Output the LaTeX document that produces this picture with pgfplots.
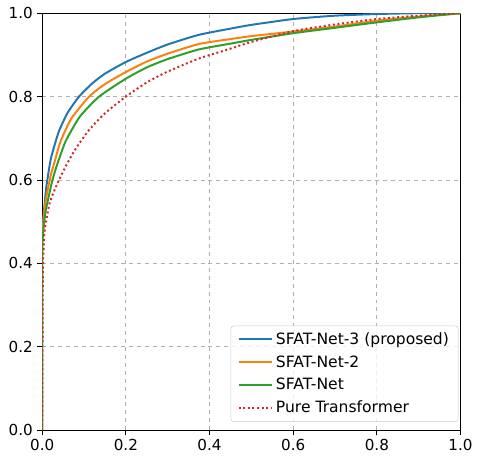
\documentclass[border=0pt]{standalone}
\usepackage{pgfplots}
\pgfplotsset{compat=1.18}
\usepackage{fontspec}
\setmainfont{DejaVu Sans}
\definecolor{tabblue}{HTML}{1F77B4}
\definecolor{taborange}{HTML}{FF7F0E}
\definecolor{tabgreen}{HTML}{2CA02C}
\definecolor{tabred}{HTML}{D62728}
\begin{document}
\begin{tikzpicture}
\begin{axis}[
    scale only axis,
    width=317pt, height=316pt,
    xmin=0, xmax=1, ymin=0, ymax=1,
    xtick={0,0.2,...,1.0}, ytick={0,0.2,...,1.0},
    xtick pos=left, ytick pos=left,
    tick align=outside, major tick length=3.6pt,
    tick style={black, line width=0.6pt},
    axis line style={line width=0.6pt},
    ticklabel style={font=\fontsize{11.5}{13}\selectfont},
    /pgf/number format/assume math mode=true,
    /pgf/number format/.cd, fixed, fixed zerofill, precision=1, /pgfplots/.cd,
    grid=major,
    major grid style={dashed, color=black!31, line width=0.6pt},
    legend cell align=left,
    legend style={at={(0.995,0.02)}, anchor=south east,
        font=\fontsize{11.8}{13}\selectfont,
        draw=black!20, rounded corners=2pt, fill=white, fill opacity=0.8, text opacity=1,
        row sep=3pt, inner xsep=5pt, inner ysep=3pt},
    legend image code/.code={\draw[#1] (0cm,0cm) -- (0.9cm,0cm);},
    every axis plot/.append style={smooth, tension=0.35},
]
\addplot[tabblue, line width=1.5pt] coordinates {
(0,0) (0,0.45) (0.002,0.50) (0.005,0.534) (0.01,0.585) (0.02,0.648) (0.03,0.685)
(0.04,0.717) (0.06,0.76) (0.088,0.80) (0.12,0.832) (0.15,0.855) (0.2,0.883)
(0.25,0.905) (0.3,0.925) (0.374,0.948) (0.45,0.963) (0.5,0.972) (0.6,0.986)
(0.7,0.994) (0.8,0.998) (0.9,1) (1,1)};
\addlegendentry{SFAT-Net-3 (proposed)}
\addplot[taborange, line width=1.5pt] coordinates {
(0,0) (0,0.44) (0.002,0.49) (0.005,0.527) (0.01,0.56) (0.02,0.61) (0.03,0.645)
(0.044,0.693) (0.07,0.748) (0.112,0.80) (0.15,0.83) (0.2,0.859) (0.25,0.884)
(0.3,0.903) (0.374,0.926) (0.45,0.938) (0.5,0.945) (0.6,0.956) (0.7,0.968)
(0.8,0.982) (0.9,0.992) (1,1)};
\addlegendentry{SFAT-Net-2}
\addplot[tabgreen, line width=1.5pt] coordinates {
(0,0) (0,0.42) (0.002,0.47) (0.005,0.503) (0.01,0.535) (0.024,0.598) (0.035,0.635)
(0.056,0.693) (0.09,0.752) (0.136,0.80) (0.2,0.843) (0.25,0.87) (0.3,0.89)
(0.374,0.913) (0.45,0.927) (0.5,0.936) (0.6,0.952) (0.7,0.965) (0.8,0.978)
(0.9,0.99) (1,1)};
\addlegendentry{SFAT-Net}
\addplot[tabred, line width=1.5pt, dotted] coordinates {
(0,0) (0.001,0.3) (0.002,0.40) (0.005,0.47) (0.01,0.505) (0.017,0.542) (0.025,0.565)
(0.04,0.60) (0.06,0.64) (0.08,0.675) (0.112,0.72) (0.15,0.76) (0.2,0.80)
(0.25,0.834) (0.3,0.86) (0.374,0.891) (0.45,0.915) (0.5,0.931) (0.6,0.957)
(0.7,0.973) (0.8,0.986) (0.9,0.994) (1,1)};
\addlegendentry{Pure Transformer}
\end{axis}
\path ([xshift=-32pt,yshift=-18pt]current axis.south west) rectangle ([xshift=10pt,yshift=10pt]current axis.north east);
\end{tikzpicture}
\end{document}
